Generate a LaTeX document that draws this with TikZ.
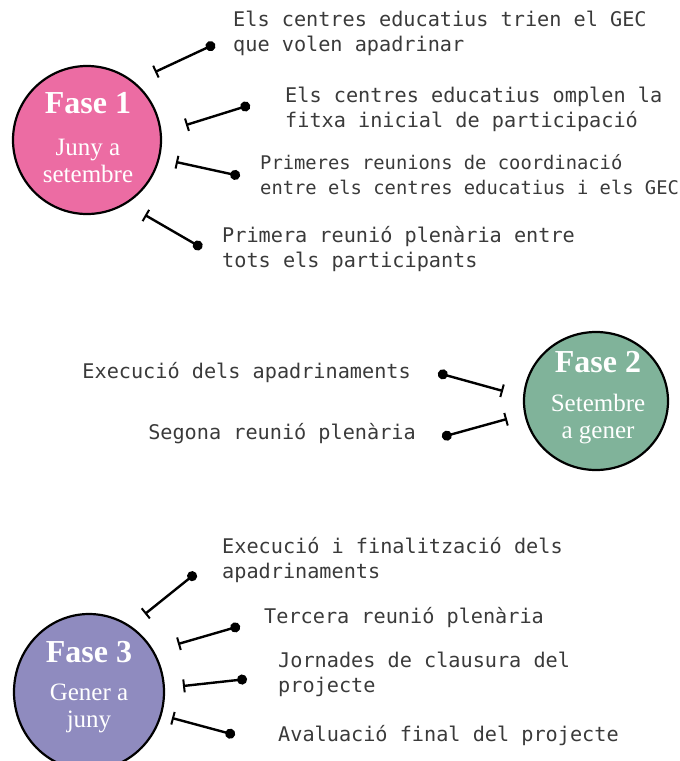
\documentclass[tikz,border=0pt]{standalone}
\usepackage{fontspec}
\setmainfont{Liberation Serif}
\newfontfamily\monof{DejaVu Sans Mono}
\usetikzlibrary{arrows.meta,shapes.geometric}
\definecolor{pinkf}{HTML}{EC6CA3}
\definecolor{greenf}{HTML}{80B39A}
\definecolor{purplef}{HTML}{8F8BBF}
\definecolor{txt}{HTML}{3A3A3A}
\tikzset{
  phase/.style={draw=black,line width=2.2pt,inner sep=0pt},
  item/.style={font=\monof\fontsize{20.2}{25}\selectfont,text=txt,align=left,inner sep=0pt},
  conn/.style={line width=2.4pt,{Bar[width=13pt,line width=2pt]}-{Circle[length=10pt,width=10pt]}},
  connr/.style={line width=2.4pt,{Circle[length=10pt,width=10pt]}-{Bar[width=13pt,line width=2pt]}},
  ttl/.style={font=\bfseries\fontsize{32}{32}\selectfont,text=white},
  sub/.style={font=\fontsize{25}{27}\selectfont,text=white,align=center}
}
\begin{document}
\begin{tikzpicture}[x=1pt,y=-1pt]
\useasboundingbox (0,0) rectangle (680,761);
% Phase 1
\node[phase,ellipse,fill=pinkf,minimum width=148pt,minimum height=148pt] (f1) at (87,140) {};
\node[ttl] (f1t) at (88,103) {Fase 1};
\node[sub] (f1s) at (88,161) {Juny a\\setembre};
\coordinate (a1) at (155,72); \coordinate (b1) at (215,44);
\coordinate (a2) at (186,125); \coordinate (b2) at (250,105);
\coordinate (a3) at (176,162); \coordinate (b3) at (240,176);
\coordinate (a4) at (145,215); \coordinate (b4) at (202,248);
\draw[conn] (a1) -- (b1);
\draw[conn] (a2) -- (b2);
\draw[conn] (a3) -- (b3);
\draw[conn] (a4) -- (b4);
\node[item,anchor=west] (t1) at (233,33) {Els centres educatius trien el GEC\\que volen apadrinar};
\node[item,anchor=west] (t2) at (285,109) {Els centres educatius omplen la\\fitxa inicial de participació};
\node[item,anchor=west,font=\monof\fontsize{18.8}{25}\selectfont] (t3) at (260,175) {Primeres reunions de coordinació\\entre els centres educatius i els GEC};
\node[item,anchor=west] (t4) at (222,249) {Primera reunió plenària entre\\tots els participants};
% Phase 2
\node[phase,ellipse,fill=greenf,minimum width=144pt,minimum height=138pt] (f2) at (596,401) {};
\node[ttl] (f2t) at (598,362) {Fase 2};
\node[sub] (f2s) at (598,419) {Setembre\\a gener};
\coordinate (c1) at (438,373); \coordinate (d1) at (503,391);
\coordinate (c2) at (442,437); \coordinate (d2) at (507,419);
\draw[connr] (c1) -- (d1);
\draw[connr] (c2) -- (d2);
\node[item,anchor=east] (u1) at (411,373) {Execució dels apadrinaments};
\node[item,anchor=east] (u2) at (416,434) {Segona reunió plenària};
% Phase 3
\node[phase,ellipse,fill=purplef,minimum width=150pt,minimum height=156pt] (f3) at (89,692) {};
\node[ttl] (f3t) at (89,652) {Fase 3};
\node[sub] (f3s) at (89,708) {Gener a\\juny};
\coordinate (e1) at (145,614); \coordinate (g1) at (196,573);
\coordinate (e2) at (178,644); \coordinate (g2) at (240,626);
\coordinate (e3) at (183,686); \coordinate (g3) at (247,679);
\coordinate (e4) at (172,718); \coordinate (g4) at (235,735);
\draw[conn] (e1) -- (g1);
\draw[conn] (e2) -- (g2);
\draw[conn] (e3) -- (g3);
\draw[conn] (e4) -- (g4);
\node[item,anchor=west] (v1) at (222,560) {Execució i finalització dels\\apadrinaments};
\node[item,anchor=west] (v2) at (264,618) {Tercera reunió plenària};
\node[item,anchor=west] (v3) at (278,674) {Jornades de clausura del\\projecte};
\node[item,anchor=west] (v4) at (278,736) {Avaluació final del projecte};
\end{tikzpicture}
\end{document}
